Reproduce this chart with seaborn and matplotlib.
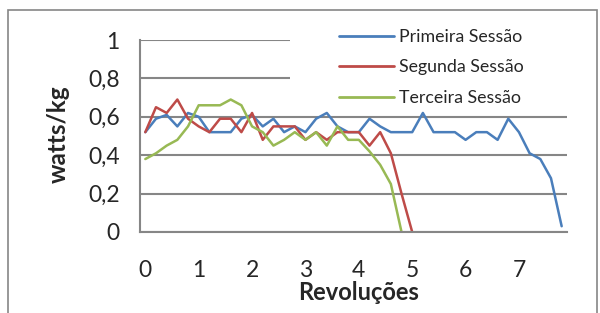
import matplotlib
matplotlib.use("Agg")
from matplotlib import pyplot as plt
from matplotlib.patches import Rectangle
import pandas as pd
import seaborn as sns

# values, one point every 0.2 revolutions
primeira = [0.52, 0.59, 0.61, 0.55, 0.62, 0.60, 0.52, 0.52, 0.52, 0.59,
            0.61, 0.55, 0.59, 0.52, 0.55, 0.52, 0.59, 0.62, 0.55, 0.52,
            0.52, 0.59, 0.55, 0.52, 0.52, 0.52, 0.62, 0.52, 0.52, 0.52,
            0.48, 0.52, 0.52, 0.48, 0.59, 0.52, 0.41, 0.38, 0.28, 0.03]
segunda = [0.52, 0.65, 0.62, 0.69, 0.59, 0.55, 0.52, 0.59, 0.59, 0.52,
           0.62, 0.48, 0.55, 0.55, 0.55, 0.48, 0.52, 0.48, 0.52, 0.52,
           0.52, 0.45, 0.52, 0.41, 0.20, 0.00]
terceira = [0.38, 0.41, 0.45, 0.48, 0.55, 0.66, 0.66, 0.66, 0.69, 0.66,
            0.55, 0.52, 0.45, 0.48, 0.52, 0.48, 0.52, 0.45, 0.55, 0.48,
            0.48, 0.42, 0.35, 0.25, 0.00]
series_names = ["Primeira Sessão", "Segunda Sessão", "Terceira Sessão"]
colors = ["#4A7EBB", "#BE4B48", "#98B954"]
x_labels = ["0", "1", "2", "3", "4", "5", "6", "7"]
y_ticks = [0, 0.2, 0.4, 0.6, 0.8, 1]

rows = []
for name, vals in zip(series_names, [primeira, segunda, terceira]):
    for i, v in enumerate(vals):
        rows.append({"idx": i, "valor": v, "sessao": name})
df = pd.DataFrame(rows)

sns.set_style("white")
plt.rcParams["font.family"] = ["Lato", "DejaVu Sans"]
grey = "#868686"

fig = plt.figure(figsize=(6, 3.13), dpi=100)
ax = fig.add_axes([0.2333, 0.2588, 0.7117, 0.6134])

sns.lineplot(data=df, x="idx", y="valor", hue="sessao", palette=colors,
             hue_order=series_names, linewidth=1.8, ax=ax, legend=False)

ax.set_xlim(-0.5, 39.5)
ax.set_ylim(0, 1)

# tick marks between categories, labels on every 5th category
ax.set_xticks([-0.5 + 5 * k for k in range(9)])
ax.set_xticklabels([])
ax.set_xticks([5 * k for k in range(len(x_labels))], minor=True)
ax.set_xticklabels(x_labels, minor=True, fontsize=16.5)
ax.tick_params(axis="x", which="major", length=3.6, width=1.5, color=grey, direction="out")
ax.tick_params(axis="x", which="minor", length=0, pad=20)

ax.set_yticks(y_ticks)
ax.set_yticklabels([f"{t:g}".replace(".", ",") for t in y_ticks], fontsize=16.5)
ax.tick_params(axis="y", length=3.6, width=1.5, color=grey, direction="out", pad=11)

ax.grid(axis="y", color=grey, linewidth=1.5)
ax.set_axisbelow(True)
for s in ["top", "right"]:
    ax.spines[s].set_visible(False)
for s in ["left", "bottom"]:
    ax.spines[s].set_color(grey)
    ax.spines[s].set_linewidth(1.5)

ax.set_xlabel("Revoluções", fontsize=17, fontweight="bold")
ax.xaxis.set_label_coords(0.513, -0.255)
ax.set_ylabel("watts/kg", fontsize=17.5, fontweight="bold")
ax.yaxis.set_label_coords(-0.165, 0.51)

# white legend area hides the top gridlines, as in the original
fig.patches.append(Rectangle((0.483, 0.655), 0.505, 0.275, transform=fig.transFigure,
                             facecolor="white", edgecolor="none", zorder=1))

handles = [plt.Line2D([], [], color=c, linewidth=2) for c in colors]
leg = fig.legend(handles, series_names, loc="upper left",
                 bbox_to_anchor=(0.565, 0.908), fontsize=12.8, frameon=False,
                 handlelength=3.1, handletextpad=0.3, labelspacing=0.82,
                 borderpad=0, borderaxespad=0)

# outer chart border
fig.patches.append(Rectangle((0.013, -0.02), 0.982, 0.988, transform=fig.transFigure,
                             fill=False, edgecolor=grey, linewidth=1.2, zorder=2))

fig.savefig("out.png", dpi=100)
